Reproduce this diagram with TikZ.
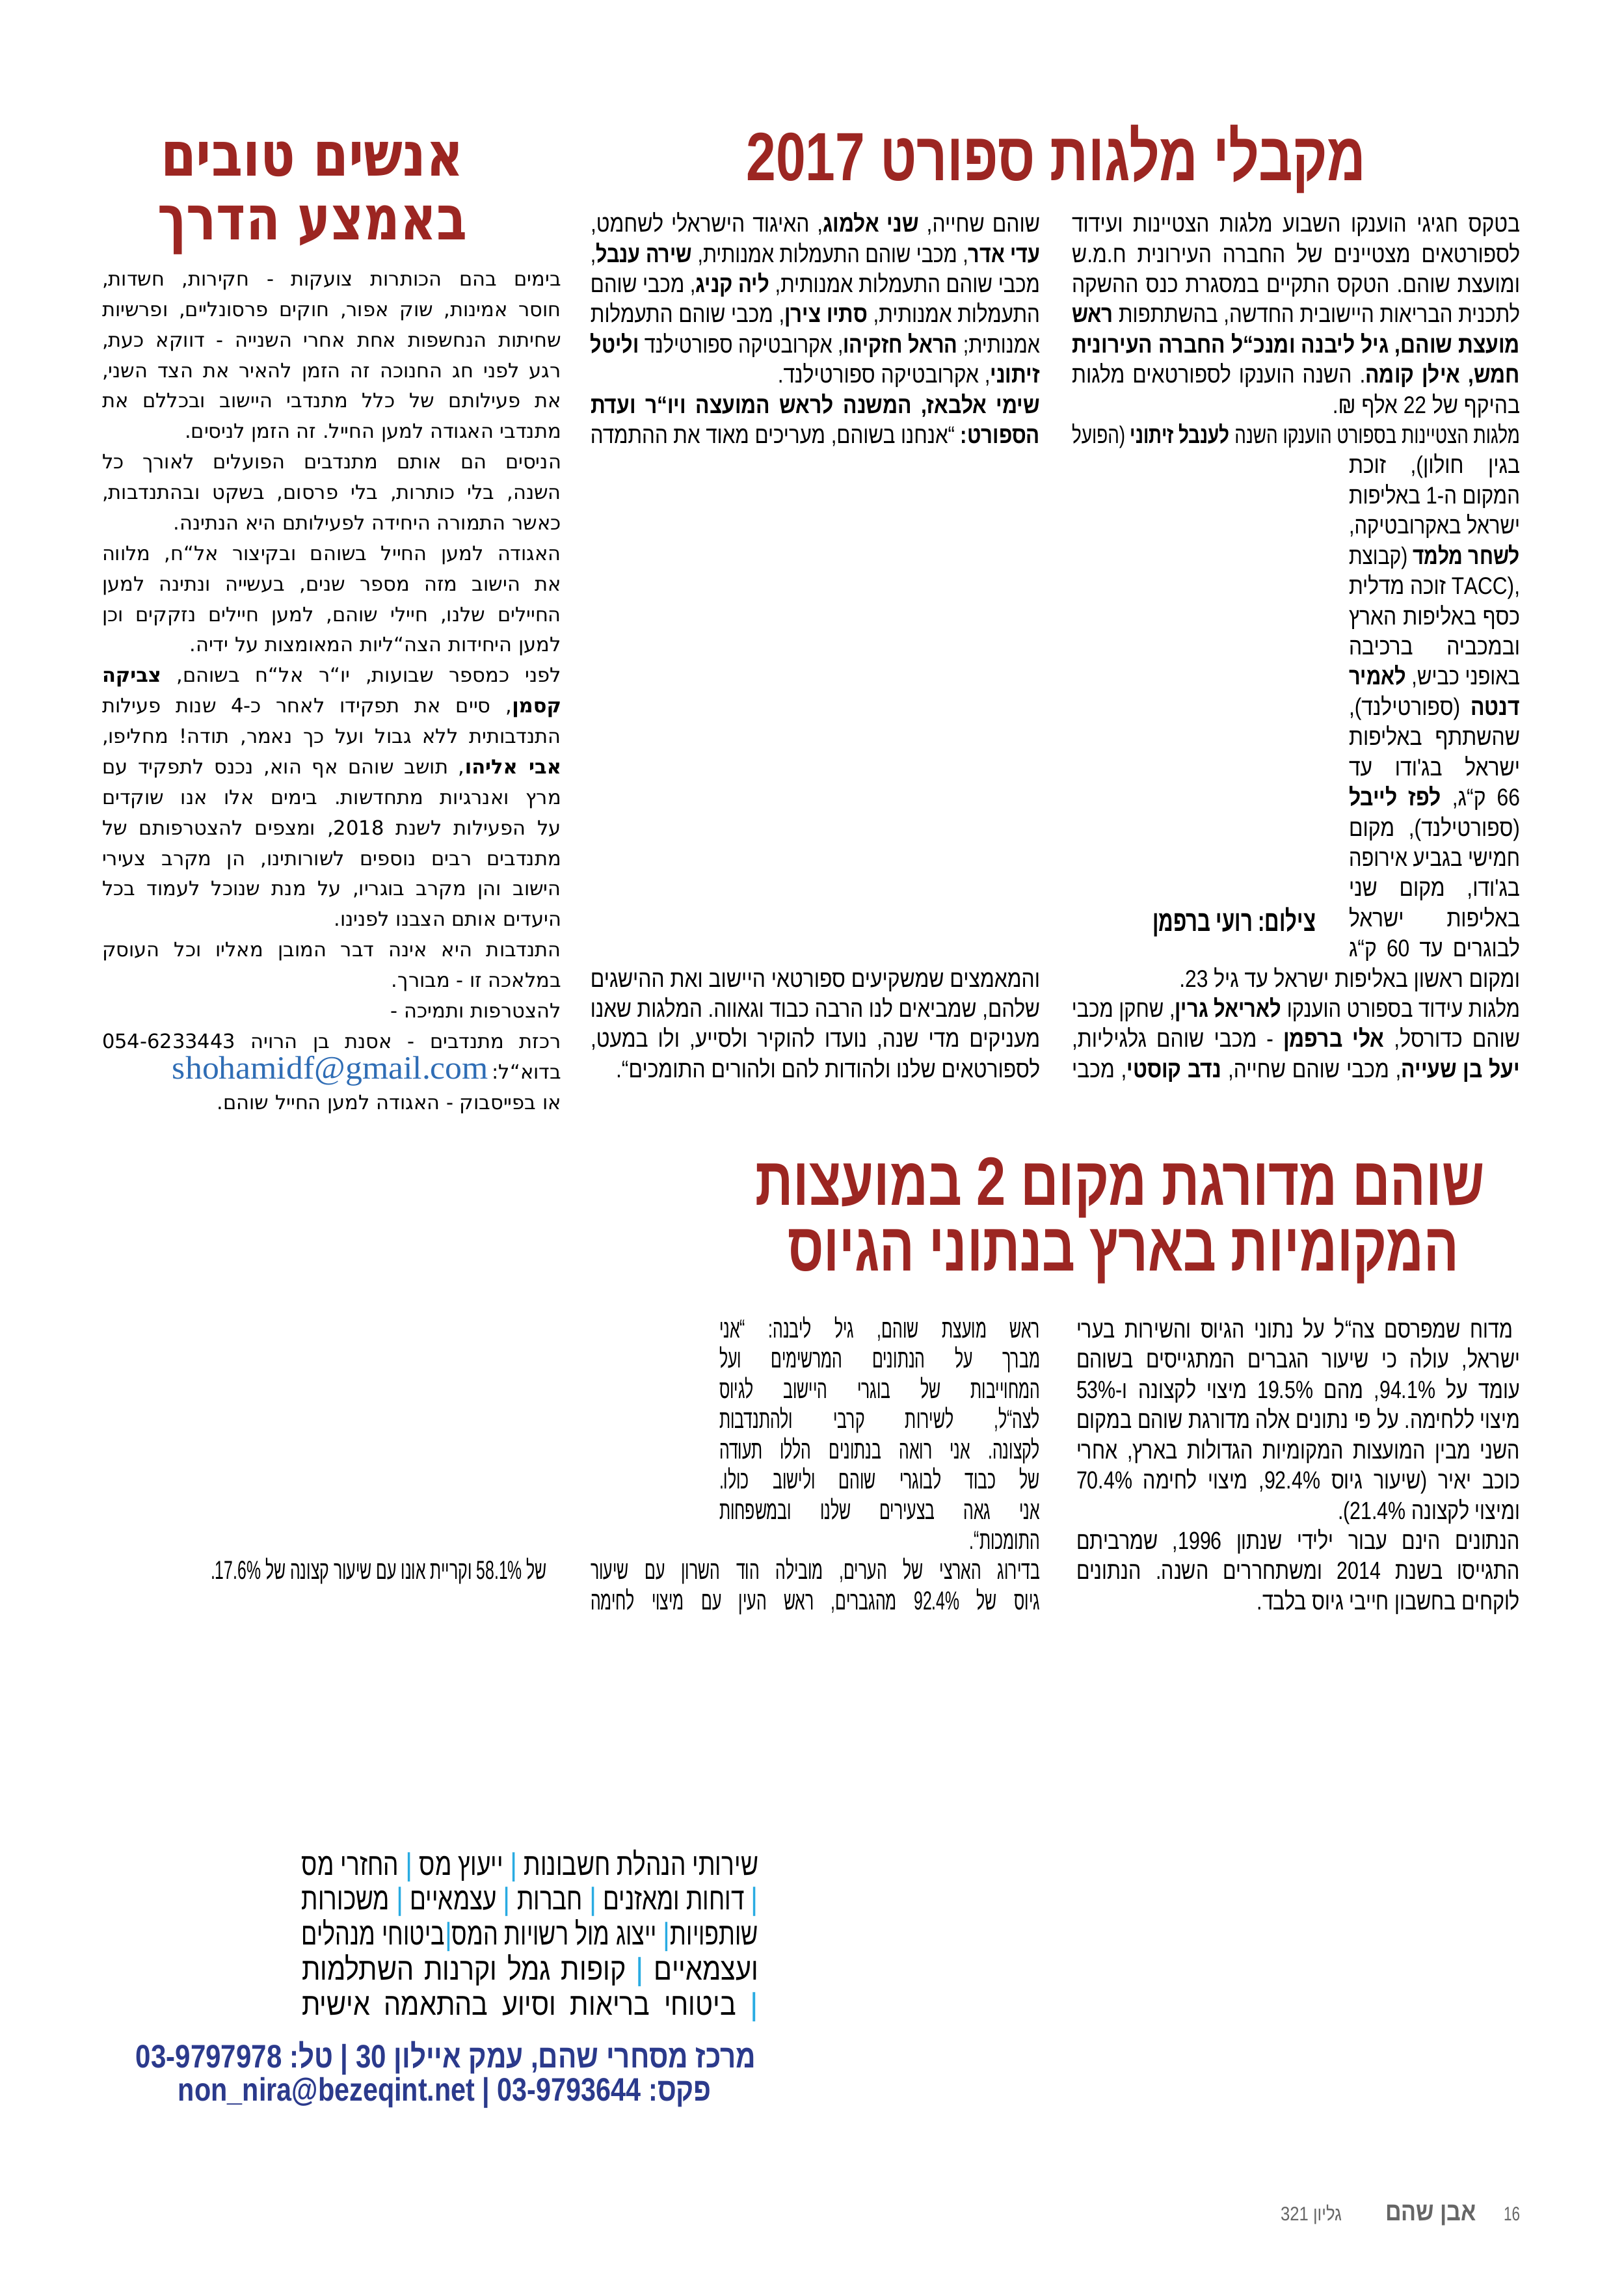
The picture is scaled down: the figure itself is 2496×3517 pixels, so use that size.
\documentclass[tikz,border=0pt]{standalone}
\usepackage{fontspec}
\usepackage{graphicx}
\TeXXeTstate=1
\newfontfamily\fA[Script=Hebrew,FakeStretch=0.86]{Liberation Sans}
\newfontfamily\fC[Script=Hebrew]{DejaVu Sans}
\newfontfamily\fR[Script=Hebrew,FakeStretch=0.8]{Liberation Sans}
\newfontfamily\fM[Script=Hebrew,FakeStretch=0.62]{Liberation Sans}
\newfontfamily\fH[Script=Hebrew]{Liberation Sans}
\newfontfamily\fHC[Script=Hebrew]{DejaVu Sans}
\newfontfamily\fSerif{Liberation Serif}
\newfontfamily\barfont[Color=29ABE2]{Liberation Sans}
\definecolor{headred}{HTML}{9C2622}
\definecolor{darkblue}{HTML}{2B3A8C}
\definecolor{mailblue}{HTML}{2F6DB5}
\definecolor{footgrey}{HTML}{666666}
\newdimen\px \px=0.2pt
\newsavebox\lnbox
\newcounter{tl}
\newcommand\fitJ[2]{\sbox\lnbox{\beginR#2\endR}\ifdim\wd\lnbox>#1\relax\resizebox{#1}{\height}{\usebox\lnbox}\else\makebox[#1][s]{\beginR#2\endR}\fi}
\newcommand\fitR[2]{\sbox\lnbox{\beginR#2\endR}\ifdim\wd\lnbox>#1\relax\resizebox{#1}{\height}{\usebox\lnbox}\else\makebox[#1][r]{\usebox\lnbox}\fi}
\newcommand\fitX[2]{\resizebox{#1}{\height}{\beginR#2\endR}}
\newcommand\colset[4]{\def\cx{#1}\def\cyz{#2}\def\cdy{#3}\def\cw{#4}}
\newcommand\Jl[2]{\stepcounter{tl}\node[ln] (t\arabic{tl}) at (\cx,{\cyz+\cdy*#1}) {\fitJ{\cw\px}{#2}};}
\newcommand\Rl[2]{\stepcounter{tl}\node[ln] (t\arabic{tl}) at (\cx,{\cyz+\cdy*#1}) {\fitR{\cw\px}{#2}};}
\newcommand\vb{{\barfont |}}
\begin{document}
\frenchspacing
\begin{tikzpicture}[x=0.2pt,y=-0.2pt,
  ln/.style={anchor=base east,inner sep=0pt,outer sep=0pt},
  hd/.style={anchor=base,inner sep=0pt,outer sep=0pt}]
\path[fill=white] (0,0) rectangle (2496,3517);
\useasboundingbox (0,0) rectangle (2496,3517);

% ---------- headings ----------
\node[hd,text=headred,font=\fH\bfseries\fontsize{21}{21}\selectfont] (h1) at (1624,278) {\fitX{953\px}{מקבלי מלגות ספורט 2017}};
\node[hd,text=headred,font=\fHC\bfseries\fontsize{19}{19}\selectfont] (h2a) at (480,270) {\fitX{466\px}{אנשים טובים}};
\node[hd,text=headred,font=\fHC\bfseries\fontsize{19}{19}\selectfont] (h2b) at (480,368) {\fitX{476\px}{באמצע הדרך}};
\node[hd,text=headred,font=\fH\bfseries\fontsize{21}{21}\selectfont] (h3a) at (1722,1852) {\fitX{1121\px}{שוהם מדורגת מקום 2 במועצות}};
\node[hd,text=headred,font=\fH\bfseries\fontsize{21}{21}\selectfont] (h3b) at (1727,1953) {\fitX{1032\px}{המקומיות בארץ בנתוני הגיוס}};

% ---------- article 1, right column ----------
\begin{scope}[ln/.append style={font=\fA\fontsize{7.4}{8}\selectfont}]
\colset{2337}{356.6}{46.42}{689}
\Jl{0}{בטקס חגיגי הוענקו השבוע מלגות הצטיינות ועידוד}
\Jl{1}{לספורטאים מצטיינים של החברה העירונית ח.מ.ש}
\Jl{2}{ומועצת שוהם. הטקס התקיים במסגרת כנס ההשקה}
\Jl{3}{לתכנית הבריאות היישובית החדשה, בהשתתפות \textbf{ראש}}
\Jl{4}{\textbf{מועצת שוהם, גיל ליבנה ומנכ“ל החברה העירונית}}
\Jl{5}{\textbf{חמש, אילן קומה}. השנה הוענקו לספורטאים מלגות}
\Rl{6}{בהיקף של 22 אלף ₪.}
\Jl{7}{מלגות הצטיינות בספורט הוענקו השנה \textbf{לענבל זיתוני} (הפועל}
\colset{2337}{356.6}{46.42}{263}
\Jl{8}{בגין חולון), זוכת}
\Jl{9}{המקום ה-1 באליפות}
\Jl{10}{ישראל באקרובטיקה,}
\Jl{11}{\textbf{לשחר מלמד} (קבוצת}
\Jl{12}{TACC), זוכה מדלית}
\Jl{13}{כסף באליפות הארץ}
\Jl{14}{ובמכביה ברכיבה}
\Jl{15}{באופני כביש, \textbf{לאמיר}}
\Jl{16}{\textbf{דנטה} (ספורטילנד),}
\Jl{17}{שהשתתף באליפות}
\Jl{18}{ישראל בג'ודו עד}
\Jl{19}{66 ק“ג, \textbf{לפז לייבל}}
\Jl{20}{(ספורטילנד), מקום}
\Jl{21}{חמישי בגביע אירופה}
\Jl{22}{בג'ודו, מקום שני}
\Jl{23}{באליפות ישראל}
\Jl{24}{לבוגרים עד 60 ק“ג}
\colset{2337}{356.6}{46.42}{689}
\Rl{25}{ומקום ראשון באליפות ישראל עד גיל 23.}
\Jl{26}{מלגות עידוד בספורט הוענקו \textbf{לאריאל גרין}, שחקן מכבי}
\Jl{27}{שוהם כדורסל, \textbf{אלי ברפמן} - מכבי שוהם גלגיליות,}
\Jl{28}{\textbf{יעל בן שעייה}, מכבי שוהם שחייה, \textbf{נדב קוסטי}, מכבי}
\end{scope}
\node[ln,font=\fA\bfseries\fontsize{9}{9}\selectfont] (cap) at (2023,1431) {\fitX{251\px}{צילום: רועי ברפמן}};

% ---------- article 1, middle column ----------
\begin{scope}[ln/.append style={font=\fA\fontsize{7.4}{8}\selectfont}]
\colset{1599}{356.6}{46.42}{691}
\Jl{0}{שוהם שחייה, \textbf{שני אלמוג}, האיגוד הישראלי לשחמט,}
\Jl{1}{\textbf{עדי אדר}, מכבי שוהם התעמלות אמנותית, \textbf{שירה ענבל},}
\Jl{2}{מכבי שוהם התעמלות אמנותית, \textbf{ליה קניג}, מכבי שוהם}
\Jl{3}{התעמלות אמנותית, \textbf{סתיו צירן}, מכבי שוהם התעמלות}
\Jl{4}{אמנותית; \textbf{הראל חזקיהו}, אקרובטיקה ספורטילנד \textbf{וליטל}}
\Rl{5}{\textbf{זיתוני}, אקרובטיקה ספורטילנד.}
\Jl{6}{\textbf{שימי אלבאז, המשנה לראש המועצה ויו“ר ועדת}}
\Jl{7}{\textbf{הספורט:} “אנחנו בשוהם, מעריכים מאוד את ההתמדה}
\Jl{25}{והמאמצים שמשקיעים ספורטאי היישוב ואת ההישגים}
\Jl{26}{שלהם, שמביאים לנו הרבה כבוד וגאווה. המלגות שאנו}
\Jl{27}{מעניקים מדי שנה, נועדו להוקיר ולסייע, ולו במעט,}
\Rl{28}{לספורטאים שלנו ולהודות להם ולהורים התומכים“.}
\end{scope}

% ---------- left column ----------
\begin{scope}[ln/.append style={font=\fC\fontsize{6.1}{7}\selectfont}]
\colset{863}{439.5}{46.87}{706}
\Jl{0}{בימים בהם הכותרות צועקות - חקירות, חשדות,}
\Jl{1}{חוסר אמינות, שוק אפור, חוקים פרסונליים, ופרשיות}
\Jl{2}{שחיתות הנחשפות אחת אחרי השנייה - דווקא כעת,}
\Jl{3}{רגע לפני חג החנוכה זה הזמן להאיר את הצד השני,}
\Jl{4}{את פעילותם של כלל מתנדבי היישוב ובכללם את}
\Rl{5}{מתנדבי האגודה למען החייל. זה הזמן לניסים.}
\Jl{6}{הניסים הם אותם מתנדבים הפועלים לאורך כל}
\Jl{7}{השנה, בלי כותרות, בלי פרסום, בשקט ובהתנדבות,}
\Rl{8}{כאשר התמורה היחידה לפעילותם היא הנתינה.}
\Jl{9}{האגודה למען החייל בשוהם ובקיצור אל“ח, מלווה}
\Jl{10}{את הישוב מזה מספר שנים, בעשייה ונתינה למען}
\Jl{11}{החיילים שלנו, חיילי שוהם, למען חיילים נזקקים וכן}
\Rl{12}{למען היחידות הצה“ליות המאומצות על ידיה.}
\Jl{13}{לפני כמספר שבועות, יו“ר אל“ח בשוהם, \textbf{צביקה}}
\Jl{14}{\textbf{קסמן}, סיים את תפקידו לאחר כ-4 שנות פעילות}
\Jl{15}{התנדבותית ללא גבול ועל כך נאמר, תודה! מחליפו,}
\Jl{16}{\textbf{אבי אליהו}, תושב שוהם אף הוא, נכנס לתפקיד עם}
\Jl{17}{מרץ ואנרגיות מתחדשות. בימים אלו אנו שוקדים}
\Jl{18}{על הפעילות לשנת 2018, ומצפים להצטרפותם של}
\Jl{19}{מתנדבים רבים נוספים לשורותינו, הן מקרב צעירי}
\Jl{20}{הישוב והן מקרב בוגריו, על מנת שנוכל לעמוד בכל}
\Rl{21}{היעדים אותם הצבנו לפנינו.}
\Jl{22}{התנדבות היא אינה דבר המובן מאליו וכל העוסק}
\Rl{23}{במלאכה זו - מבורך.}
\Rl{24}{להצטרפות ותמיכה -}
\Jl{25}{רכזת מתנדבים - אסנת בן הרויה 054-6233443}
\Rl{26}{בדוא“ל:}
\Rl{27}{או בפייסבוק - האגודה למען החייל שוהם.}
\end{scope}
\node[ln,text=mailblue,font=\fSerif\fontsize{10}{10}\selectfont] (mail) at (751,1658) {\resizebox{486\px}{\height}{shohamidf@gmail.com}};

% ---------- article 2, right column ----------
\begin{scope}[ln/.append style={font=\fR\fontsize{7.6}{8}\selectfont}]
\colset{2326}{2056.5}{46.42}{671}
\Jl{0}{מדוח שמפרסם צה“ל על נתוני הגיוס והשירות בערי}
\colset{2337}{2056.5}{46.42}{682}
\Jl{1}{ישראל, עולה כי שיעור הגברים המתגייסים בשוהם}
\Jl{2}{עומד על 94.1\%, מהם 19.5\% מיצוי לקצונה ו-53\%}
\Jl{3}{מיצוי ללחימה. על פי נתונים אלה מדורגת שוהם במקום}
\Jl{4}{השני מבין המועצות המקומיות הגדולות בארץ, אחרי}
\Jl{5}{כוכב יאיר (שיעור גיוס 92.4\%, מיצוי לחימה 70.4\%}
\Rl{6}{ומיצוי לקצונה 21.4\%).}
\Jl{7}{הנתונים הינם עבור ילידי שנתון 1996, שמרביתם}
\Jl{8}{התגייסו בשנת 2014 ומשתחררים השנה. הנתונים}
\Rl{9}{לוקחים בחשבון חייבי גיוס בלבד.}
\end{scope}

% ---------- article 2, middle column ----------
\begin{scope}[ln/.append style={font=\fM\fontsize{8}{8}\selectfont}]
\colset{1599}{2056.5}{46.42}{493}
\Jl{0}{ראש מועצת שוהם, גיל ליבנה: “אני}
\Jl{1}{מברך על הנתונים המרשימים ועל}
\Jl{2}{המחוייבות של בוגרי היישוב לגיוס}
\Jl{3}{לצה“ל, לשירות קרבי ולהתנדבות}
\Jl{4}{לקצונה. אני רואה בנתונים הללו תעודה}
\Jl{5}{של כבוד לבוגרי שוהם ולישוב כולו.}
\Jl{6}{אני גאה בצעירים שלנו ובמשפחות}
\Rl{7}{התומכות“.}
\colset{1599}{2056.5}{46.42}{691}
\Jl{8}{בדירוג הארצי של הערים, מובילה הוד השרון עם שיעור}
\Jl{9}{גיוס של 92.4\% מהגברים, ראש העין עם מיצוי לחימה}
\colset{841}{2056.5}{46.42}{650}
\Rl{8}{של 58.1\% וקריית אונו עם שיעור קצונה של 17.6\%.}
\end{scope}

% ---------- advertisement ----------
\begin{scope}[ln/.append style={font=\fA\fontsize{9.6}{10}\selectfont}]
\colset{1166}{2882}{53.8}{702}
\Jl{0}{שירותי הנהלת חשבונות \vb{} ייעוץ מס \vb{} החזרי מס}
\Jl{1}{\vb{} דוחות ומאזנים \vb{} חברות \vb{} עצמאיים \vb{} משכורות}
\Jl{2}{שותפויות\vb{} ייצוג מול רשויות המס\vb{}ביטוחי מנהלים}
\Jl{3}{ועצמאיים \vb{} קופות גמל וקרנות השתלמות}
\Jl{4}{\vb{} ביטוחי בריאות וסיוע בהתאמה אישית}
\end{scope}
\node[ln,text=darkblue,font=\fH\bfseries\fontsize{10}{10}\selectfont] (c1) at (1162,3178) {\fitX{953\px}{מרכז מסחרי שהם, עמק איילון 30 | טל: 03-9797978}};
\node[ln,text=darkblue,font=\fH\bfseries\fontsize{10}{10}\selectfont] (c2) at (1094,3229) {\fitX{820\px}{פקס: 03-9793644 | non\_nira@bezeqint.net}};

% ---------- footer ----------
\node[ln,text=footgrey,font=\fH\fontsize{6}{6}\selectfont] (f1) at (2337,3413) {\fitX{25\px}{16}};
\node[ln,text=footgrey,font=\fH\bfseries\fontsize{8}{8}\selectfont] (f2) at (2270,3413) {\fitX{140\px}{אבן שהם}};
\node[ln,text=footgrey,font=\fH\fontsize{6}{6}\selectfont] (f3) at (2063,3413) {\fitX{94\px}{גליון 321}};
\end{tikzpicture}
\end{document}
